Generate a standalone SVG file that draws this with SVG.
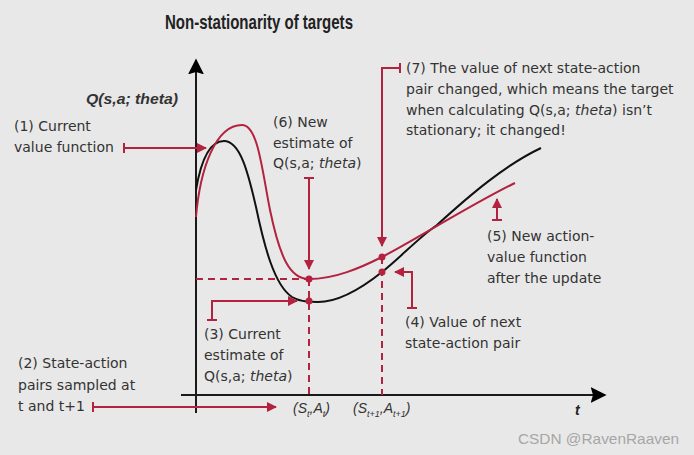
<svg xmlns="http://www.w3.org/2000/svg" width="694" height="455" viewBox="0 0 694 455">
<defs>
<style>
.hw{font-family:"DejaVu Sans","Liberation Sans",sans-serif;font-size:14px;fill:#333}
.it{font-style:italic}
.red{stroke:#b3223f;stroke-width:2;fill:none}
.dash{stroke:#b3223f;stroke-width:2;fill:none;stroke-dasharray:7,5}
.dot{fill:#b3223f}
.ax{stroke:#1a1a1a;stroke-width:2;fill:none}
</style>
<marker id="ra" viewBox="0 0 10 10" refX="9" refY="5" markerWidth="5" markerHeight="5" orient="auto" markerUnits="strokeWidth">
<path d="M0,0 L10,5 L0,10 z" fill="#b3223f"/>
</marker>
<marker id="ka" viewBox="0 0 10 10" refX="9" refY="5" markerWidth="8" markerHeight="8" orient="auto" markerUnits="strokeWidth">
<path d="M0,0 L10,5 L0,10 L1.5,5 z" fill="#000"/>
</marker>
</defs>
<rect width="694" height="455" fill="#e8e8e8"/>
<text x="165" y="29" font-family="Liberation Sans, Arial, sans-serif" font-weight="bold" font-size="21" fill="#222" textLength="188" lengthAdjust="spacingAndGlyphs">Non-stationarity of targets</text>

<g id="axes">
<path class="ax" d="M196,413 V60" marker-end="url(#ka)"/>
<path class="ax" d="M181,395 H605" marker-end="url(#ka)"/>
<text x="86" y="104" font-family="Liberation Sans, Arial, sans-serif" font-weight="bold" font-style="italic" font-size="14" fill="#333" textLength="92" lengthAdjust="spacingAndGlyphs">Q(s,a; theta)</text>
<text x="575" y="415" font-family="Liberation Sans, Arial, sans-serif" font-weight="bold" font-style="italic" font-size="14" fill="#222">t</text>
<text x="293" y="413" font-family="Liberation Sans, Arial, sans-serif" font-style="italic" font-size="14" fill="#333">(S<tspan font-size="9" dy="4">t</tspan><tspan dy="-4">,A</tspan><tspan font-size="9" dy="4">t</tspan><tspan dy="-4">)</tspan></text>
<text x="353" y="413" font-family="Liberation Sans, Arial, sans-serif" font-style="italic" font-size="14" fill="#333">(S<tspan font-size="9" dy="4">t+1</tspan><tspan dy="-4">,A</tspan><tspan font-size="9" dy="4">t+1</tspan><tspan dy="-4">)</tspan></text>
</g>

<g id="curves">
<path d="M196,190 C201,160 210,141 224,141 C240,141 248,172 256,207 C264,245 274,285 292,297 C300,302 310,302 318,302 C340,302 362,288 382,272 C400,258 418,238 437,225 C470,195 505,165 541,148" stroke="#111" stroke-width="2" fill="none"/>
<path d="M196,217 C200,170 215,125 242,125 C258,125 262,170 270,210 C280,258 290,279 309,279 C335,279 360,268 382,257 C410,243 470,205 515,183" class="red"/>
</g>

<g id="connectors">
<path class="dash" d="M196,279 H309"/>
<path class="dash" d="M309,279 V395"/>
<path class="dash" d="M382,257 V395"/>
<circle class="dot" cx="309" cy="279" r="3.5"/>
<circle class="dot" cx="309" cy="301" r="3.5"/>
<circle class="dot" cx="382" cy="257" r="3.5"/>
<circle class="dot" cx="382" cy="272" r="3.5"/>
<path class="red" d="M124,148 H206" marker-end="url(#ra)"/>
<path class="red" d="M124,143 V153"/>
<path class="red" d="M309,178 V269" marker-end="url(#ra)"/>
<path class="red" d="M304,178 H314"/>
<path class="red" d="M400,68 H382 V246" marker-end="url(#ra)"/>
<path class="red" d="M400,63 V73"/>
<path class="red" d="M497,220 V199" marker-end="url(#ra)"/>
<path class="red" d="M492,220 H502"/>
<path class="red" d="M412,308 V272 H395" marker-end="url(#ra)"/>
<path class="red" d="M407,308 H417"/>
<path class="red" d="M212,320 V301 H297" marker-end="url(#ra)"/>
<path class="red" d="M207,320 H217"/>
<path class="red" d="M93,407 H276" marker-end="url(#ra)"/>
<path class="red" d="M93,402 V412"/>
</g>

<g id="label1">
<text class="hw" x="14" y="131">(1) Current</text>
<text class="hw" x="14" y="152">value function</text>
</g>
<g id="label2">
<text class="hw" x="18" y="368">(2) State-action</text>
<text class="hw" x="18" y="390">pairs sampled at</text>
<text class="hw" x="18" y="411">t and t+1</text>
</g>
<g id="label3">
<text class="hw" x="204" y="339">(3) Current</text>
<text class="hw" x="204" y="360">estimate of</text>
<text class="hw" x="204" y="381">Q(s,a; <tspan class="it">theta</tspan>)</text>
</g>
<g id="label4">
<text class="hw" x="405" y="327">(4) Value of next</text>
<text class="hw" x="405" y="348">state-action pair</text>
</g>
<g id="label5">
<text class="hw" x="487" y="241">(5) New action-</text>
<text class="hw" x="487" y="262">value function</text>
<text class="hw" x="487" y="283">after the update</text>
</g>
<g id="label6">
<text class="hw" x="273" y="127">(6) New</text>
<text class="hw" x="273" y="148">estimate of</text>
<text class="hw" x="273" y="168">Q(s,a; <tspan class="it">theta</tspan>)</text>
</g>
<g id="label7">
<text class="hw" x="406" y="73">(7) The value of next state-action</text>
<text class="hw" x="406" y="94">pair changed, which means the target</text>
<text class="hw" x="406" y="115">when calculating Q(s,a; <tspan class="it">theta</tspan>) isn’t</text>
<text class="hw" x="406" y="135">stationary; it changed!</text>
</g>
<text x="518" y="444" font-family="Liberation Sans, Arial, sans-serif" font-size="15" fill="#a6a6a6" textLength="161" lengthAdjust="spacingAndGlyphs">CSDN @RavenRaaven</text>
</svg>
